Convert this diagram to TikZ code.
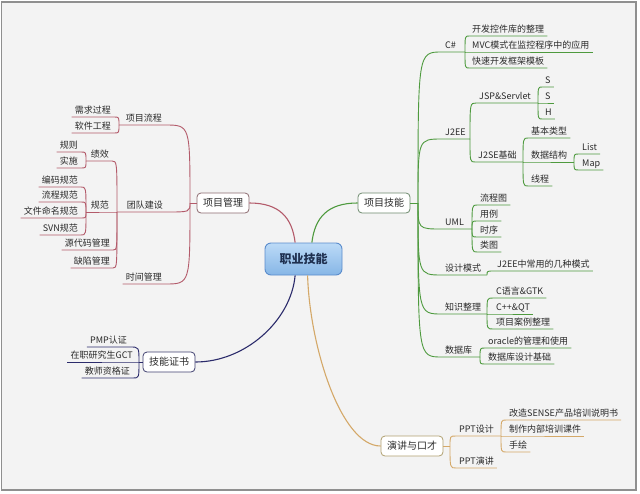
\documentclass[tikz,border=0pt]{standalone}
\usepackage{fontspec}
\setmainfont{Noto Sans CJK SC}
\definecolor{bg}{HTML}{F3F3F3}
\definecolor{frame}{HTML}{8F8F8F}
\definecolor{lnR}{HTML}{B35A6A}
\definecolor{lnG}{HTML}{4E9A3E}
\definecolor{lnB}{HTML}{2B2B6B}
\definecolor{lnO}{HTML}{D4A868}
\definecolor{bdR}{HTML}{8C6B70}
\definecolor{bdG}{HTML}{6E8A6E}
\definecolor{bdB}{HTML}{404070}
\definecolor{bdO}{HTML}{B0A070}
\definecolor{txt}{HTML}{2A2A2A}
\definecolor{cTop}{HTML}{BCDAF7}
\definecolor{cBot}{HTML}{86B6E6}
\definecolor{cBd}{HTML}{5A8CCC}
\definecolor{cTxt}{HTML}{1F3050}
\begin{document}
\begin{tikzpicture}[x=1pt,y=-1pt,
  rt/.style={anchor=south west, inner xsep=3pt, inner ysep=1.5pt, text height=7pt, text depth=1.5pt, font=\fontsize{9}{10}\selectfont, text=txt},
  lt/.style={rt, anchor=south east},
  topic/.style={draw, rounded corners=4pt, fill=white, minimum height=20pt, inner xsep=6pt, font=\fontsize{10}{12}\selectfont, text=txt, line width=0.8pt},
  center/.style={draw=cBd, rounded corners=6pt, top color=cTop, bottom color=cBot, minimum width=77pt, minimum height=32pt, line width=0.9pt, font=\fontsize{12}{14}\selectfont\bfseries, text=cTxt},
  lR/.style={draw=lnR, line width=0.9pt},
  lG/.style={draw=lnG, line width=0.9pt},
  lB/.style={draw=lnB, line width=0.9pt},
  lO/.style={draw=lnO, line width=0.9pt},
  mainln/.style={line width=1.1pt}]
\useasboundingbox (0,0) rectangle (640,493);
\fill[white] (0,0) rectangle (640,493);
\draw[fill=bg, draw=frame, line width=1.2pt] (1.5,2) rectangle (636,490);

% central
\node[center] (c) at (303.5,259) {职业技能};

% ---------------- 项目技能 ----------------
\node[topic, draw=bdG] (pt) at (384,203) {项目技能};
\coordinate (jPT) at (418,203);
\node[rt] (cs) at (442,52) {C\#};
\coordinate (jCs) at (465,52);
\node[rt] (cs1) at (469,36) {开发控件库的整理};
\node[rt] (cs2) at (469,52) {MVC模式在监控程序中的应用};
\node[rt] (cs3) at (469,68) {快速开发框架模板};
\node[rt] (je) at (442,139) {J2EE};
\coordinate (jJe) at (470,139);
\node[rt] (jsp) at (476,103) {JSP\&Servlet};
\coordinate (jJsp) at (538,103);
\node[rt] (s1) at (542,87) {S};
\node[rt] (s2) at (542,103) {S};
\node[rt] (h) at (542,119) {H};
\node[rt] (jse) at (475,162) {J2SE基础};
\coordinate (jJse) at (523,162);
\node[rt] (bt) at (528,138) {基本类型};
\node[rt] (ds) at (528,162) {数据结构};
\coordinate (jDs) at (574,162);
\node[rt] (list) at (579,154) {List};
\node[rt] (map) at (579,170) {Map};
\node[rt] (thr) at (528,186) {线程};
\node[rt] (uml) at (442,229) {UML};
\coordinate (jUml) at (472,229);
\node[rt] (u1) at (477,205) {流程图};
\node[rt] (u2) at (477,221) {用例};
\node[rt] (u3) at (477,237) {时序};
\node[rt] (u4) at (477,252) {类图};
\node[rt] (dp) at (442,275) {设计模式};
\coordinate (jDp) at (487,275);
\node[rt] (dp1) at (494,271) {J2EE中常用的几种模式};
\node[rt] (kn) at (442,314) {知识整理};
\coordinate (jKn) at (487,314);
\node[rt] (k1) at (493,298) {C语言\&GTK};
\node[rt] (k2) at (493,314) {C++\&QT};
\node[rt] (k3) at (493,329) {项目案例整理};
\node[rt] (db) at (442,357) {数据库};
\coordinate (jDb) at (480,357);
\node[rt] (d1) at (485,348) {oracle的管理和使用};
\node[rt] (d2) at (485,364) {数据库设计基础};

\draw[lG, mainln] (c.63) .. controls +(3,-25) and +(-30,0) .. (pt.west);
\draw[lG] (pt.east) -- (jPT);
\draw[lG] (jPT) .. controls (jPT |- cs.south west) .. (cs.south west) -- (jCs);
\draw[lG] (jPT) .. controls (jPT |- je.south west) .. (je.south west) -- (jJe);
\draw[lG] (jPT) .. controls (jPT |- uml.south west) .. (uml.south west) -- (jUml);
\draw[lG] (jPT) .. controls (jPT |- dp.south west) .. (dp.south west) -- (jDp);
\draw[lG] (jPT) .. controls (jPT |- kn.south west) .. (kn.south west) -- (jKn);
\draw[lG] (jPT) .. controls (jPT |- db.south west) .. (db.south west) -- (jDb);
\draw[lG] (jJe) .. controls (jJe |- jsp.south west) .. (jsp.south west) -- (jJsp);
\draw[lG] (jJe) .. controls (jJe |- jse.south west) .. (jse.south west) -- (jJse);
\draw[lG] (jJse) .. controls (jJse |- ds.south west) .. (ds.south west) -- (jDs);
\foreach \n in {cs1,cs2,cs3} \draw[lG] (jCs) .. controls (jCs |- \n.south west) .. (\n.south west) -- (\n.south east);
\foreach \n in {s1,s2,h} \draw[lG] (jJsp) .. controls (jJsp |- \n.south west) .. (\n.south west) -- (\n.south east);
\foreach \n in {bt,thr} \draw[lG] (jJse) .. controls (jJse |- \n.south west) .. (\n.south west) -- (\n.south east);
\foreach \n in {list,map} \draw[lG] (jDs) .. controls (jDs |- \n.south west) .. (\n.south west) -- (\n.south east);
\foreach \n in {u1,u2,u3,u4} \draw[lG] (jUml) .. controls (jUml |- \n.south west) .. (\n.south west) -- (\n.south east);
\foreach \n in {dp1} \draw[lG] (jDp) .. controls (jDp |- \n.south west) .. (\n.south west) -- (\n.south east);
\foreach \n in {k1,k2,k3} \draw[lG] (jKn) .. controls (jKn |- \n.south west) .. (\n.south west) -- (\n.south east);
\foreach \n in {d1,d2} \draw[lG] (jDb) .. controls (jDb |- \n.south west) .. (\n.south west) -- (\n.south east);

% ---------------- 项目管理 ----------------
\node[topic, draw=bdR] (pm) at (223,203) {项目管理};
\coordinate (jPM) at (190,203);
\node[lt] (pf) at (165,125) {项目流程};
\coordinate (jPf) at (119,125);
\node[lt] (pf1) at (114,117) {需求过程};
\node[lt] (pf2) at (114,133) {软件工程};
\node[lt] (tb) at (166,212) {团队建设};
\coordinate (jTb) at (117,212);
\node[lt] (jx) at (112,161) {绩效};
\coordinate (jJx) at (86,161);
\node[lt] (jx1) at (81,152) {规则};
\node[lt] (jx2) at (81,168) {实施};
\node[lt] (gf) at (112,212) {规范};
\coordinate (jGf) at (86,212);
\node[lt] (g1) at (81,187) {编码规范};
\node[lt] (g2) at (81,202) {流程规范};
\node[lt] (g3) at (81,218) {文件命名规范};
\node[lt] (g4) at (81,235) {SVN规范};
\node[lt] (src) at (113,250) {源代码管理};
\node[lt] (bug) at (113,268) {缺陷管理};
\node[lt] (tm) at (165,284) {时间管理};

\draw[lR, mainln] (c.117) .. controls +(-3,-25) and +(30,0) .. (pm.east);
\draw[lR] (pm.west) -- (jPM);
\draw[lR] (jPM) .. controls (jPM |- pf.south east) .. (pf.south east) -- (jPf);
\draw[lR] (jPM) .. controls (jPM |- tb.south east) .. (tb.south east) -- (jTb);
\draw[lR] (jPM) .. controls (jPM |- tm.south east) .. (tm.south east) -- (tm.south west);
\draw[lR] (jTb) .. controls (jTb |- jx.south east) .. (jx.south east) -- (jJx);
\draw[lR] (jTb) .. controls (jTb |- gf.south east) .. (gf.south east) -- (jGf);
\foreach \n in {pf1,pf2} \draw[lR] (jPf) .. controls (jPf |- \n.south east) .. (\n.south east) -- (\n.south west);
\foreach \n in {src,bug} \draw[lR] (jTb) .. controls (jTb |- \n.south east) .. (\n.south east) -- (\n.south west);
\foreach \n in {jx1,jx2} \draw[lR] (jJx) .. controls (jJx |- \n.south east) .. (\n.south east) -- (\n.south west);
\foreach \n in {g1,g2,g3,g4} \draw[lR] (jGf) .. controls (jGf |- \n.south east) .. (\n.south east) -- (\n.south west);

% ---------------- 技能证书 ----------------
\node[topic, draw=bdB] (ce) at (169,362) {技能证书};
\coordinate (jCe) at (139,362);
\node[lt] (c1) at (130,347) {PMP认证};
\node[lt] (c2) at (136,362) {在职研究生GCT};
\node[lt] (c3) at (133,378) {教师资格证};
\draw[lB, mainln] (c.243) .. controls +(-4,45) and +(50,0) .. (ce.east);
\draw[lB] (ce.west) -- (jCe);
\foreach \n in {c1,c2,c3} \draw[lB] (jCe) .. controls (jCe |- \n.south east) .. (\n.south east) -- (\n.south west);

% ---------------- 演讲与口才 ----------------
\node[topic, draw=bdO] (sp) at (412,446) {演讲与口才};
\coordinate (jSp) at (450,446);
\node[rt] (ppt) at (456,436) {PPT设计};
\coordinate (jPpt) at (501,436);
\node[rt] (p1) at (506,420) {改造SENSE产品培训说明书};
\node[rt] (p2) at (506,436) {制作内部培训课件};
\node[rt] (p3) at (506,452) {手绘};
\node[rt] (pp) at (456,468) {PPT演讲};
\draw[lO, mainln] (c.284) .. controls +(2,70) and +(-40,0) .. (sp.west);
\draw[lO] (sp.east) -- (jSp);
\draw[lO] (jSp) .. controls (jSp |- ppt.south west) .. (ppt.south west) -- (jPpt);
\draw[lO] (jSp) .. controls (jSp |- pp.south west) .. (pp.south west) -- (pp.south east);
\foreach \n in {p1,p2,p3} \draw[lO] (jPpt) .. controls (jPpt |- \n.south west) .. (\n.south west) -- (\n.south east);
\end{tikzpicture}
\end{document}
